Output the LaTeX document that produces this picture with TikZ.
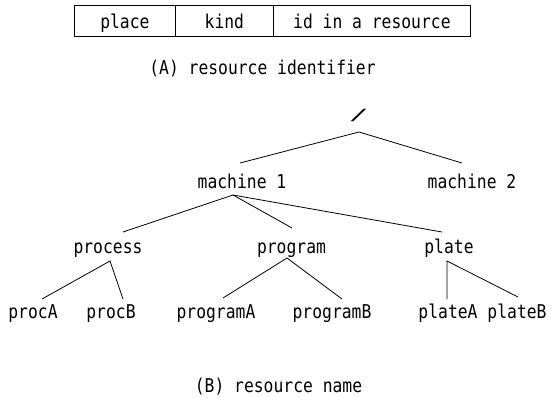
\documentclass[tikz,border=0pt]{standalone}
\usepackage{fontspec}
\setmonofont[FakeStretch=0.86]{DejaVu Sans Mono}
\newfontfamily\slashfont{Liberation Mono}
\begin{document}
\begin{tikzpicture}[x=1pt,y=-1pt,
  font=\ttfamily\fontsize{19}{22}\selectfont,
  lbl/.style={inner sep=0pt,anchor=base},
  cell/.style={draw,line width=0.8pt,inner sep=0pt,anchor=north west,
    minimum height=31pt,text height=17pt,text depth=2pt},
  link/.style={line width=0.8pt}]
  \fill[white] (0,0) rectangle (551,397);
  \useasboundingbox (0,0) rectangle (551,397);

  % (A) the three fields of a resource identifier
  \node[cell,minimum width=101pt] (place) at (74,5) {place};
  \node[cell,minimum width=98pt]  (kind)  at (175,5) {kind};
  \node[cell,minimum width=197pt] (rid)   at (273,5) {id in a resource};
  \node[lbl] (capA) at (262.5,74) {(A) resource identifier};

  % (B) the resource name tree
  \node[inner sep=0pt] (root) at (358.5,115.5)
    {\slashfont\fontsize{17}{18}\selectfont\scalebox{1.9}[1]{/}};
  \node[lbl] (m1)  at (242,188)   {machine 1};
  \node[lbl] (m2)  at (472,188)   {machine 2};
  \node[lbl] (pc)  at (108,253)   {process};
  \node[lbl] (pg)  at (291.5,253) {program};
  \node[lbl] (pl)  at (449,253)   {plate};
  \node[lbl] (pa)  at (33,318)    {procA};
  \node[lbl] (pb)  at (111,318)   {procB};
  \node[lbl] (pga) at (216,318)   {programA};
  \node[lbl] (pgb) at (332,318)   {programB};
  \node[lbl] (pla) at (448,318)   {plateA};
  \node[lbl] (plb) at (517,318)   {plateB};
  \node[lbl] (capB) at (278.5,392) {(B) resource name};

  % branches
  \draw[link] ([xshift=-2pt,yshift=25pt]m1.base) -- ([xshift=0.5pt,yshift=-16.5pt]root.center)
              -- ([xshift=-10pt,yshift=25pt]m2.base);
  \draw[link] ([xshift=15pt,yshift=21pt]pc.base) -- ([xshift=-9pt,yshift=-7pt]m1.base)
              -- ([xshift=0.5pt,yshift=25pt]pg.base);
  \draw[link] ([xshift=-9pt,yshift=-7pt]m1.base) -- ([xshift=-7pt,yshift=21pt]pl.base);
  \draw[link] ([xshift=9pt,yshift=19pt]pa.base) -- ([xshift=2pt,yshift=-8pt]pc.base)
              -- ([xshift=12pt,yshift=19pt]pb.base);
  \draw[link] ([xshift=7pt,yshift=20pt]pga.base) -- ([xshift=-4.5pt,yshift=-5pt]pg.base)
              -- ([xshift=10pt,yshift=19pt]pgb.base);
  \draw[link] ([xshift=-1pt,yshift=19pt]pla.base) -- ([xshift=-2pt,yshift=-8pt]pl.base)
              -- ([xshift=1pt,yshift=21pt]plb.base);
\end{tikzpicture}
\end{document}
